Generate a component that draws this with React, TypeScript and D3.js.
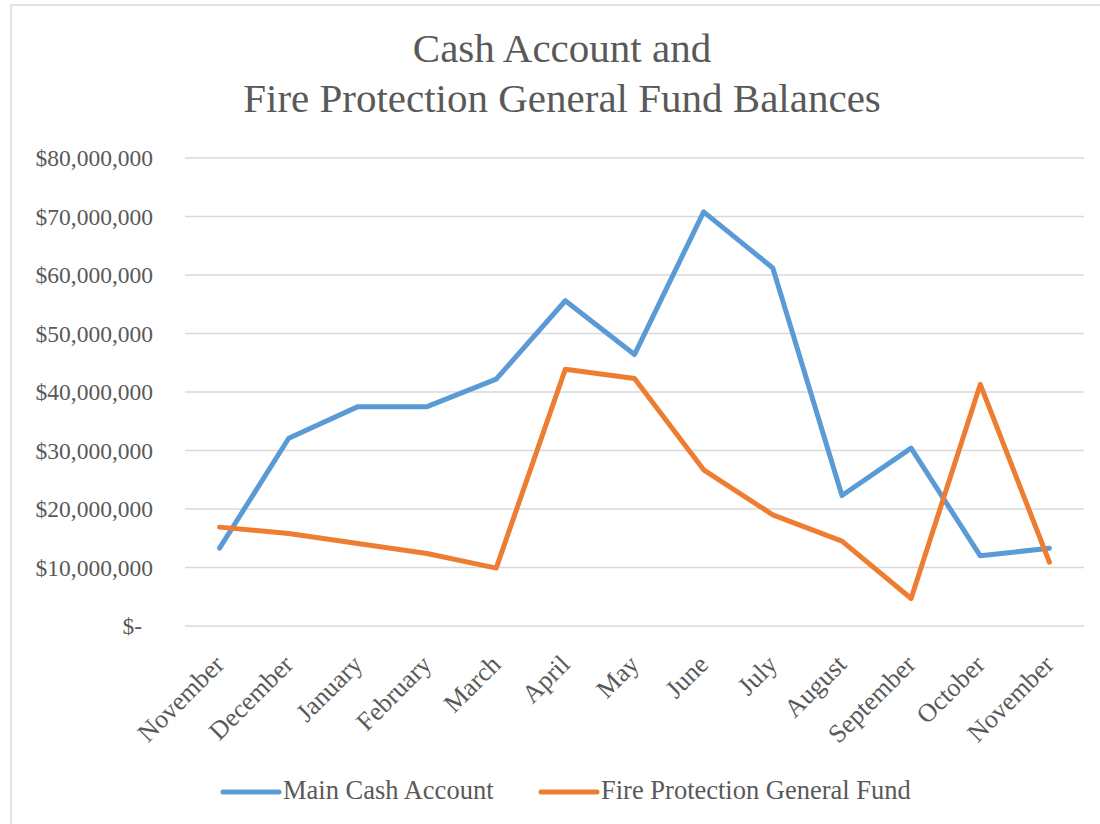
import * as React from "react";
import * as d3 from "d3";

// month labels along the x axis (Nov of one year through Nov of the next)
const months = [
  "November",
  "December",
  "January",
  "February",
  "March",
  "April",
  "May",
  "June",
  "July",
  "August",
  "September",
  "October",
  "November",
];

const mainCash = [
  13300000, 32100000, 37500000, 37500000, 42200000, 55600000, 46400000,
  70800000, 61200000, 22300000, 30400000, 12000000, 13300000,
];

const fireFund = [
  16900000, 15800000, 14100000, 12400000, 9900000, 43900000, 42300000,
  26700000, 19000000, 14500000, 4700000, 41300000, 10900000,
];

const yTicks = [
  0, 10000000, 20000000, 30000000, 40000000, 50000000, 60000000, 70000000,
  80000000,
];

const seriesNames = ["Main Cash Account", "Fire Protection General Fund"];
const seriesColors = ["#5B9BD5", "#ED7D31"];
const titleLines = ["Cash Account and", "Fire Protection General Fund Balances"];

const font = "'Liberation Serif', serif";
const textColor = "#595959";

export default function App() {
  const width = 1100;
  const height = 824;
  const plot = { left: 185, right: 1084, top: 158, bottom: 626 };

  const x = d3
    .scalePoint<number>()
    .domain(months.map((_, i) => i))
    .range([plot.left, plot.right])
    .padding(0.5);

  const y = d3
    .scaleLinear()
    .domain([0, 80000000])
    .range([plot.bottom, plot.top]);

  const line = d3
    .line<number>()
    .x((_, i) => x(i) as number)
    .y((d) => y(d));

  const fmt = d3.format("$,");
  const yLabel = (v: number) => (v === 0 ? "$-" : fmt(v));

  const series = [mainCash, fireFund];

  return (
    <svg
      width={width}
      height={height}
      style={{ position: "absolute", left: 0, top: 0, background: "#fff" }}
      fontFamily={font}
    >
      <rect
        x={11}
        y={5}
        width={1200}
        height={1000}
        fill="#fff"
        stroke="#D9D9D9"
        strokeWidth={1.5}
      />

      {titleLines.map((t, i) => (
        <text
          key={i}
          x={562}
          y={62 + i * 50}
          textAnchor="middle"
          fontSize={41}
          fill={textColor}
        >
          {t}
        </text>
      ))}

      {yTicks.map((v) => (
        <g key={v}>
          <line
            x1={plot.left}
            x2={plot.right}
            y1={y(v)}
            y2={y(v)}
            stroke="#D9D9D9"
            strokeWidth={1.5}
          />
          <text
            x={v === 0 ? 142 : 153}
            y={y(v)}
            dy="0.35em"
            textAnchor="end"
            fontSize={23.5}
            fill={textColor}
          >
            {yLabel(v)}
          </text>
        </g>
      ))}

      {months.map((m, i) => (
        <text
          key={i}
          transform={`translate(${(x(i) as number) + 6},${666}) rotate(-45)`}
          textAnchor="end"
          fontSize={26}
          fill={textColor}
        >
          {m}
        </text>
      ))}

      {series.map((s, k) => (
        <path
          key={k}
          d={line(s) || ""}
          fill="none"
          stroke={seriesColors[k]}
          strokeWidth={5}
          strokeLinejoin="round"
          strokeLinecap="round"
        />
      ))}

      {seriesNames.map((name, k) => {
        const lx = 223 + k * 318;
        return (
          <g key={name}>
            <line
              x1={lx}
              x2={lx + 56}
              y1={792}
              y2={792}
              stroke={seriesColors[k]}
              strokeWidth={5}
              strokeLinecap="round"
            />
            <text x={lx + 60} y={799} fontSize={26.5} fill={textColor}>
              {name}
            </text>
          </g>
        );
      })}
    </svg>
  );
}
